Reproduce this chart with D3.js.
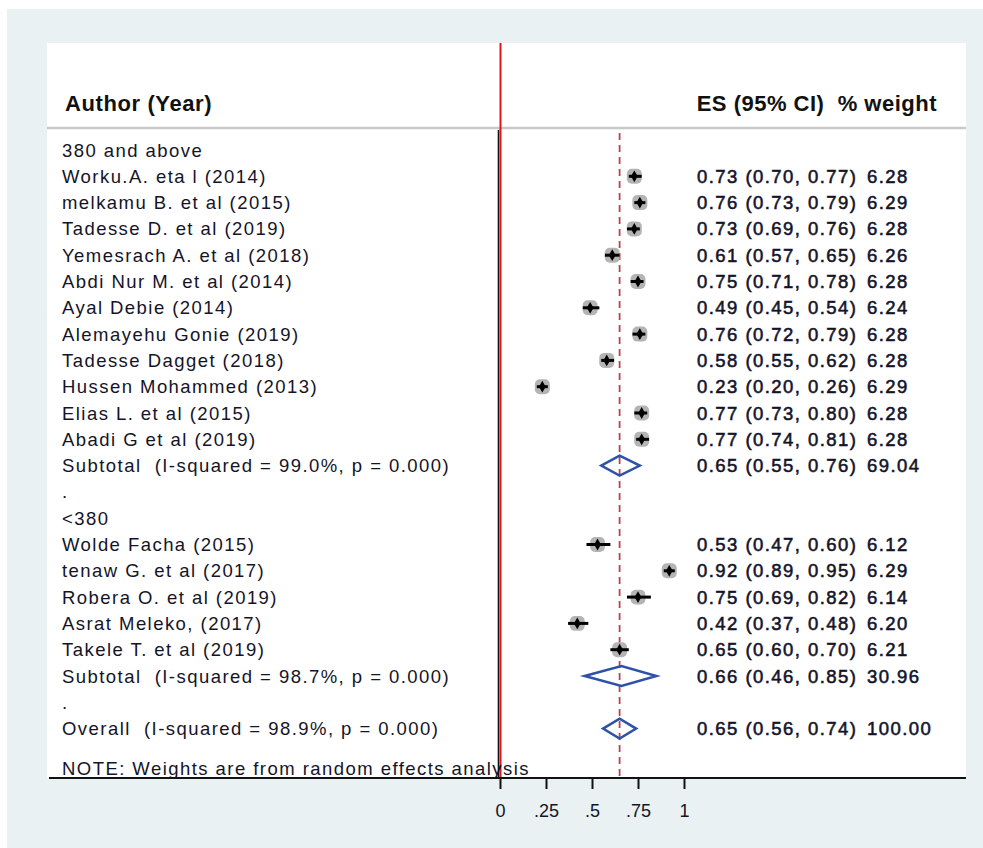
<!DOCTYPE html>
<html>
<head>
<meta charset="utf-8">
<script src="https://cdn.jsdelivr.net/npm/d3@7"></script>
<style>
  html, body { margin:0; padding:0; background:#fff; }
  svg { display:block; }
  text { white-space:pre; }
  .lbl { font-family:"Liberation Sans", Arial, sans-serif; font-size:18.5px; fill:#141428; letter-spacing:1.45px; }
  .num { stroke:#141428; stroke-width:0.55px; }
  .hdr { font-family:"Liberation Sans", Arial, sans-serif; font-size:22px; font-weight:bold; fill:#111; }
</style>
</head>
<body>
<svg class="forest" width="983" height="848"></svg>
<script>
// group 1: 380 and above
var group1Names = ['Worku.A. eta l (2014)','melkamu B. et al (2015)','Tadesse D. et al (2019)','Yemesrach A. et al (2018)',
	'Abdi Nur M. et al (2014)','Ayal Debie (2014)','Alemayehu Gonie (2019)','Tadesse Dagget (2018)',
	'Hussen Mohammed (2013)','Elias L. et al (2015)','Abadi G et al (2019)'];
var group1Es = [0.73,0.76,0.73,0.61,0.75,0.49,0.76,0.58,0.23,0.77,0.77];
var group1Lo = [0.70,0.73,0.69,0.57,0.71,0.45,0.72,0.55,0.20,0.73,0.74];
var group1Hi = [0.77,0.79,0.76,0.65,0.78,0.54,0.79,0.62,0.26,0.80,0.81];
var group1Wt = [6.28,6.29,6.28,6.26,6.28,6.24,6.28,6.28,6.29,6.28,6.28];

// group 2: <380
var group2Names = ['Wolde Facha (2015)','tenaw G. et al (2017)','Robera O. et al (2019)','Asrat Meleko, (2017)','Takele T. et al (2019)'];
var group2Es = [0.53,0.92,0.75,0.42,0.65];
var group2Lo = [0.47,0.89,0.69,0.37,0.60];
var group2Hi = [0.60,0.95,0.82,0.48,0.70];
var group2Wt = [6.12,6.29,6.14,6.20,6.21];

// pooled estimates [es, lo, hi, weight]
var subtotal1 = [0.65,0.55,0.76,69.04];
var subtotal2 = [0.66,0.46,0.85,30.96];
var overall = [0.65,0.56,0.74,100.00];
var subtotal1Label = 'Subtotal  (I-squared = 99.0%, p = 0.000)';
var subtotal2Label = 'Subtotal  (I-squared = 98.7%, p = 0.000)';
var overallLabel = 'Overall  (I-squared = 98.9%, p = 0.000)';

var xTicks = [0,0.25,0.5,0.75,1];

// build row list
var rows = [];
rows.push({type:'head', label:'380 and above'});
group1Names.forEach(function(n,i){
	rows.push({type:'study', label:n, es:group1Es[i], lo:group1Lo[i], hi:group1Hi[i], wt:group1Wt[i]});
});
rows.push({type:'pool', label:subtotal1Label, es:subtotal1[0], lo:subtotal1[1], hi:subtotal1[2], wt:subtotal1[3]});
rows.push({type:'head', label:'.'});
rows.push({type:'head', label:'<380'});
group2Names.forEach(function(n,i){
	rows.push({type:'study', label:n, es:group2Es[i], lo:group2Lo[i], hi:group2Hi[i], wt:group2Wt[i]});
});
rows.push({type:'pool', label:subtotal2Label, es:subtotal2[0], lo:subtotal2[1], hi:subtotal2[2], wt:subtotal2[3]});
rows.push({type:'head', label:'.'});
rows.push({type:'pool', label:overallLabel, es:overall[0], lo:overall[1], hi:overall[2], wt:overall[3]});

var svg = d3.select('.forest');

// backgrounds
svg.append('rect').attr('x',7).attr('y',9).attr('width',976).attr('height',839).attr('fill','#e9f1f3');
svg.append('rect').attr('x',47).attr('y',43).attr('width',919).attr('height',735).attr('fill','#fff');

var xScale = d3.scaleLinear().domain([0,1]).range([500,684]);
var yScale = d3.scaleLinear().domain([0,rows.length-1]).range([150,728.6]);
var boxScale = d3.scaleSqrt().domain([0,d3.max(group1Wt.concat(group2Wt))]).range([0,15]);

var fmt = d3.format('.2f');

// header
svg.append('text').attr('class','hdr').attr('x',65).attr('y',111).style('letter-spacing','0.6px').text('Author (Year)');
svg.append('text').attr('class','hdr').attr('x',937).attr('y',111).attr('text-anchor','end').style('letter-spacing','0.5px').text('ES (95% CI)  % weight');
svg.append('line').attr('x1',47).attr('x2',966).attr('y1',128).attr('y2',128)
	.attr('stroke','#c8c8c8').attr('stroke-width',2.5);

// vertical lines
svg.append('line').attr('x1',xScale(0)-1.5).attr('x2',xScale(0)-1.5).attr('y1',130).attr('y2',778)
	.attr('stroke','#111').attr('stroke-width',1.6);
svg.append('line').attr('x1',xScale(0)+0.5).attr('x2',xScale(0)+0.5).attr('y1',43).attr('y2',778)
	.attr('stroke','#e3141b').attr('stroke-width',2);
svg.append('line').attr('x1',xScale(overall[0])).attr('x2',xScale(overall[0])).attr('y1',133).attr('y2',778)
	.attr('stroke','#b5464f').attr('stroke-width',1.8).attr('stroke-dasharray','7,5');

var rowG = svg.selectAll('g.row')
	.data(rows)
	.enter()
	.append('g')
	.attr('class','row')
	.attr('transform',(d,i)=>'translate(0,'+yScale(i)+')');

rowG.append('text')
	.attr('class','lbl')
	.attr('x',62)
	.attr('y',6.5)
	.text(d => d.label);

var withEs = rowG.filter(d => d.type !== 'head');
withEs.append('text')
	.attr('class','lbl num')
	.attr('x',697)
	.attr('y',6.5)
	.text(d => fmt(d.es)+' ('+fmt(d.lo)+', '+fmt(d.hi)+')');
withEs.append('text')
	.attr('class','lbl num')
	.attr('x',867)
	.attr('y',6.5)
	.text(d => fmt(d.wt));

// studies
var studies = rowG.filter(d => d.type === 'study');
studies.append('rect')
	.attr('x',d => xScale(d.es)-boxScale(d.wt)/2)
	.attr('y',d => -boxScale(d.wt)/2)
	.attr('width',d => boxScale(d.wt))
	.attr('height',d => boxScale(d.wt))
	.attr('rx',5)
	.attr('fill','#b4b4b4');
studies.append('line')
	.attr('x1',d => xScale(d.lo))
	.attr('x2',d => xScale(d.hi))
	.attr('stroke','#000')
	.attr('stroke-width',3);
studies.append('path')
	.attr('transform',d => 'translate('+xScale(d.es)+',0)')
	.attr('d',d3.symbol(d3.symbolDiamond,40))
	.attr('fill','#000');

// pooled diamonds
rowG.filter(d => d.type === 'pool')
	.append('path')
	.attr('d',d => 'M'+xScale(d.lo)+',0 L'+xScale(d.es)+',-10 L'+xScale(d.hi)+',0 L'+xScale(d.es)+',10 Z')
	.attr('fill','none')
	.attr('stroke','#2d52a8')
	.attr('stroke-width',2.5);

// note
svg.append('text').attr('class','lbl').attr('x',62).attr('y',775).text('NOTE: Weights are from random effects analysis');

// axis
svg.append('line').attr('x1',49).attr('x2',966).attr('y1',778).attr('y2',778).attr('stroke','#111').attr('stroke-width',2);
var xAxisGen = d3.axisBottom(xScale)
	.tickValues(xTicks)
	.tickSize(11)
	.tickPadding(15)
	.tickFormat(d => d === 0 || d === 1 ? String(d) : fmt(d).replace(/^0/,'').replace(/0$/,''));
var axisG = svg.append('g')
	.attr('transform','translate(0,778)')
	.call(xAxisGen);
axisG.select('.domain').remove();
axisG.selectAll('.tick line').attr('stroke','#111').attr('stroke-width',2);
axisG.selectAll('.tick text')
	.attr('fill','#141428')
	.style('font-family','"Liberation Sans", Arial, sans-serif')
	.style('font-size','18px');
</script>
</body>
</html>
